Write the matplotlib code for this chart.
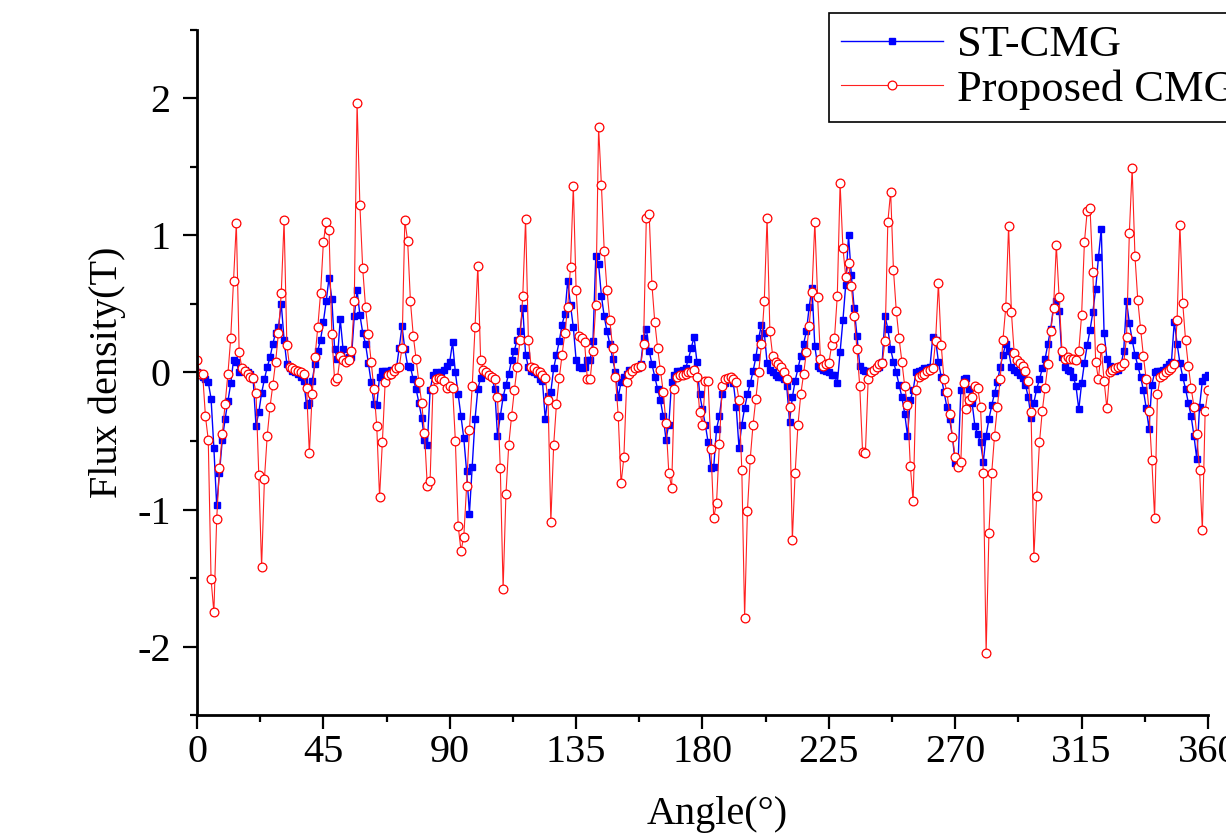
import numpy as np
import matplotlib
matplotlib.use("Agg")
import matplotlib.pyplot as plt
from matplotlib.ticker import MultipleLocator

plt.rcParams['font.family'] = ['Liberation Serif', 'DejaVu Serif']
plt.rcParams['axes.unicode_minus'] = False

# rotor position, one sample per degree
angle = np.arange(0, 361)

st_cmg = [
    0.00, -0.02, -0.03, -0.05, -0.07, -0.19, -0.55, -0.97, -0.73, -0.49,   # 0
    -0.34, -0.21, -0.08, 0.09, 0.08, 0.00, 0.02, 0.02, 0.00, -0.01,       # 10
    -0.05, -0.39, -0.29, -0.15, -0.05, 0.04, 0.11, 0.21, 0.29, 0.33,      # 20
    0.50, 0.24, 0.06, 0.03, 0.01, 0.00, -0.01, -0.03, -0.06, -0.24,       # 30
    -0.22, -0.06, 0.06, 0.16, 0.24, 0.37, 0.52, 0.69, 0.54, 0.17,         # 40
    0.10, 0.39, 0.17, 0.10, 0.11, 0.11, 0.41, 0.60, 0.42, 0.29,           # 50
    0.21, 0.07, -0.07, -0.23, -0.24, -0.03, 0.01, 0.01, 0.01, 0.02,       # 60
    0.02, 0.03, 0.18, 0.34, 0.17, 0.05, 0.04, -0.05, -0.12, -0.22,        # 70
    -0.33, -0.49, -0.53, -0.13, -0.02, 0.00, -0.01, 0.00, 0.02, 0.05,     # 80
    0.08, 0.22, 0.00, -0.16, -0.32, -0.48, -0.72, -1.03, -0.69, -0.34,    # 90
    -0.12, -0.04, -0.01, -0.01, -0.02, -0.03, -0.12, -0.46, -0.32, -0.18, # 100
    -0.09, -0.01, 0.09, 0.16, 0.24, 0.30, 0.47, 0.13, 0.04, 0.01,         # 110
    0.00, -0.01, -0.05, -0.06, -0.34, -0.17, -0.14, 0.03, 0.13, 0.23,     # 120
    0.35, 0.43, 0.67, 0.49, 0.33, 0.09, 0.04, 0.03, 0.04, 0.09,           # 130
    0.09, 0.23, 0.85, 0.79, 0.56, 0.41, 0.30, 0.21, 0.10, 0.00,           # 140
    -0.18, -0.07, -0.03, -0.01, 0.02, 0.02, 0.03, 0.03, 0.06, 0.25,       # 150
    0.32, 0.16, 0.06, -0.03, -0.12, -0.20, -0.32, -0.49, -0.38, -0.07,    # 160
    -0.02, 0.01, 0.01, 0.02, 0.03, 0.10, 0.18, 0.26, 0.08, -0.16,         # 170
    -0.27, -0.38, -0.51, -0.70, -0.69, -0.41, -0.32, -0.16, -0.08, -0.05, # 180
    -0.04, -0.08, -0.25, -0.55, -0.38, -0.26, -0.16, -0.08, 0.01, 0.11,   # 190
    0.25, 0.35, 0.29, 0.07, 0.02, 0.00, -0.02, -0.03, -0.03, -0.05,       # 200
    -0.10, -0.36, -0.18, -0.06, 0.03, 0.12, 0.21, 0.30, 0.48, 0.62,       # 210
    0.19, 0.05, 0.03, 0.02, 0.01, 0.00, -0.02, -0.02, -0.08, 0.15,        # 220
    0.38, 0.64, 1.00, 0.71, 0.47, 0.27, 0.05, 0.02, 0.01, 0.01,           # 230
    0.00, 0.02, 0.03, 0.04, 0.08, 0.41, 0.32, 0.17, 0.08, 0.00,           # 240
    -0.09, -0.18, -0.30, -0.46, -0.20, -0.13, 0.00, 0.01, 0.02, 0.03,     # 250
    0.03, 0.04, 0.26, 0.24, 0.08, -0.03, -0.14, -0.25, -0.34, -0.47,      # 260
    -0.66, -0.66, -0.13, -0.05, -0.04, -0.12, -0.22, -0.39, -0.45, -0.51, # 270
    -0.65, -0.46, -0.34, -0.24, -0.15, -0.07, 0.04, 0.13, 0.21, 0.16,     # 280
    0.04, 0.02, 0.00, -0.02, -0.04, -0.09, -0.18, -0.33, -0.22, -0.12,    # 290
    -0.05, 0.03, 0.10, 0.21, 0.32, 0.48, 0.52, 0.45, 0.11, 0.04,          # 300
    0.02, 0.01, -0.03, -0.10, -0.27, -0.08, 0.07, 0.20, 0.31, 0.44,       # 310
    0.61, 0.84, 1.05, 0.29, 0.10, 0.05, 0.02, 0.01, 0.02, 0.05,           # 320
    0.16, 0.52, 0.36, 0.24, 0.13, 0.05, -0.03, -0.13, -0.26, -0.41,       # 330
    -0.09, 0.00, 0.01, 0.01, 0.02, 0.04, 0.06, 0.08, 0.37, 0.21,          # 340
    0.07, -0.03, -0.12, -0.22, -0.32, -0.46, -0.63, -0.25, -0.06, -0.03,  # 350
    -0.02,                                                                # 360
]

proposed = [
    0.09, -0.01, -0.01, -0.32, -0.49, -1.51, -1.75, -1.07, -0.70, -0.45,  # 0
    -0.23, -0.01, 0.25, 0.67, 1.09, 0.15, 0.03, 0.01, -0.01, -0.03,       # 10
    -0.04, -0.15, -0.75, -1.42, -0.78, -0.46, -0.25, -0.09, 0.08, 0.29,   # 20
    0.58, 1.11, 0.20, 0.04, 0.03, 0.02, 0.01, 0.00, -0.01, -0.11,         # 30
    -0.59, -0.16, 0.11, 0.33, 0.58, 0.95, 1.10, 1.04, 0.28, -0.06,        # 40
    -0.04, 0.12, 0.09, 0.08, 0.09, 0.16, 0.52, 1.97, 1.22, 0.76,          # 50
    0.48, 0.28, 0.08, -0.12, -0.39, -0.91, -0.51, -0.07, -0.02, -0.01,    # 60
    0.01, 0.03, 0.04, 0.18, 1.11, 0.96, 0.52, 0.27, 0.10, -0.07,          # 70
    -0.22, -0.44, -0.83, -0.79, -0.12, -0.05, -0.04, -0.05, -0.06, -0.11, # 80
    -0.10, -0.11, -0.50, -1.12, -1.30, -1.20, -0.83, -0.42, -0.10, 0.33,  # 90
    0.78, 0.09, 0.02, 0.00, -0.02, -0.03, -0.05, -0.18, -0.70, -1.58,     # 100
    -0.89, -0.53, -0.32, -0.13, 0.04, 0.24, 0.56, 1.12, 0.24, 0.04,       # 110
    0.03, 0.01, 0.00, -0.02, -0.04, -0.20, -1.09, -0.53, -0.23, -0.04,    # 120
    0.13, 0.29, 0.48, 0.77, 1.36, 0.60, 0.27, 0.25, 0.22, -0.05,          # 130
    -0.05, 0.16, 0.49, 1.79, 1.37, 0.89, 0.60, 0.38, 0.18, -0.03,         # 140
    -0.32, -0.81, -0.62, -0.07, -0.01, 0.01, 0.03, 0.04, 0.05, 0.21,      # 150
    1.13, 1.16, 0.64, 0.37, 0.18, 0.02, -0.14, -0.37, -0.73, -0.84,       # 160
    -0.12, -0.03, -0.02, -0.02, -0.01, 0.00, 0.00, 0.02, -0.03, -0.29,    # 170
    -0.38, -0.06, -0.06, -0.56, -1.06, -0.95, -0.52, -0.10, -0.05, -0.04, # 180
    -0.03, -0.05, -0.07, -0.20, -0.71, -1.79, -1.01, -0.63, -0.38, -0.19, # 190
    0.00, 0.21, 0.52, 1.13, 0.30, 0.12, 0.08, 0.06, 0.04, 0.00,           # 200
    -0.05, -0.25, -1.22, -0.73, -0.38, -0.16, -0.01, 0.15, 0.34, 0.59,    # 210
    1.10, 0.55, 0.10, 0.05, 0.06, 0.07, 0.20, 0.25, 0.56, 1.38,           # 220
    0.91, 0.70, 0.80, 0.63, 0.41, 0.17, -0.10, -0.58, -0.59, -0.05,       # 230
    0.00, 0.02, 0.04, 0.06, 0.07, 0.23, 1.10, 1.32, 0.75, 0.45,           # 240
    0.25, 0.08, -0.10, -0.24, -0.68, -0.94, -0.13, -0.03, -0.02, -0.01,   # 250
    0.01, 0.02, 0.03, 0.23, 0.65, 0.20, -0.05, -0.14, -0.30, -0.47,       # 260
    -0.62, -0.69, -0.65, -0.08, -0.27, -0.20, -0.18, -0.10, -0.11, -0.25, # 270
    -0.73, -2.05, -1.17, -0.73, -0.46, -0.25, -0.05, 0.24, 0.48, 1.07,    # 280
    0.44, 0.14, 0.09, 0.07, 0.05, 0.01, -0.06, -0.29, -1.35, -0.90,       # 290
    -0.51, -0.28, -0.11, 0.06, 0.30, 0.47, 0.93, 0.55, 0.16, 0.10,        # 300
    0.11, 0.10, 0.10, 0.09, 0.16, 0.42, 0.95, 1.18, 1.20, 0.73,           # 310
    0.08, -0.05, 0.18, -0.06, -0.26, 0.00, 0.02, 0.03, 0.04, 0.05,        # 320
    0.07, 0.26, 1.02, 1.49, 0.85, 0.53, 0.32, 0.12, -0.05, -0.28,         # 330
    -0.64, -1.06, -0.16, -0.03, -0.02, 0.00, 0.02, 0.03, 0.06, 0.38,      # 340
    1.08, 0.51, 0.24, 0.05, -0.11, -0.25, -0.45, -0.71, -1.15, -0.28,     # 350
    -0.13,                                                                # 360
]

x_ticks = [0, 45, 90, 135, 180, 225, 270, 315, 360]
y_ticks = [-2, -1, 0, 1, 2]

fs = 29
fs_leg = 32

fig = plt.figure(figsize=(12.26, 8.4), dpi=100)
ax = fig.add_axes([0.1607, 0.1488, 0.8246, 0.8155])

ax.plot(angle, st_cmg, color='#0000ff', lw=1.0, marker='s', ms=5,
        mfc='#0000ff', mec='#0000ff', label='ST-CMG')
ax.plot(angle, proposed, color='#ff2020', lw=0.8, marker='o', ms=6.3,
        mfc='white', mec='#ff0000', mew=0.9, label='Proposed CMG')

ax.set_xlim(0, 360)
ax.set_ylim(-2.5, 2.5)
ax.set_xticks(x_ticks)
ax.set_yticks(y_ticks)
ax.xaxis.set_minor_locator(MultipleLocator(22.5))
ax.yaxis.set_minor_locator(MultipleLocator(0.5))

for side in ['top', 'right']:
    ax.spines[side].set_visible(False)
for side in ['left', 'bottom']:
    ax.spines[side].set_linewidth(2.0)

ax.tick_params(which='major', direction='out', length=10, width=1.6, labelsize=fs)
ax.tick_params(which='minor', direction='out', length=5, width=1.6)
ax.tick_params(axis='x', which='major', pad=4)
ax.tick_params(axis='y', which='major', pad=9)

ax.set_xlabel('Angle(°)', fontsize=fs, labelpad=10)
ax.xaxis.set_label_coords(0.515, -0.118)
ax.set_ylabel('Flux density(T)', fontsize=fs, labelpad=8)

# legend runs past the right edge of the figure, as in the original
leg = ax.legend(loc='upper left', bbox_to_anchor=(829 / 1226, 1 - 13 / 840),
                bbox_transform=fig.transFigure, borderaxespad=0,
                fontsize=fs_leg, frameon=True, fancybox=False, framealpha=1,
                edgecolor='black', handlelength=2.3, handletextpad=0.3,
                labelspacing=0.1, borderpad=0.27)
leg.get_frame().set_linewidth(1.2)

fig.savefig('out.png', dpi=100)
